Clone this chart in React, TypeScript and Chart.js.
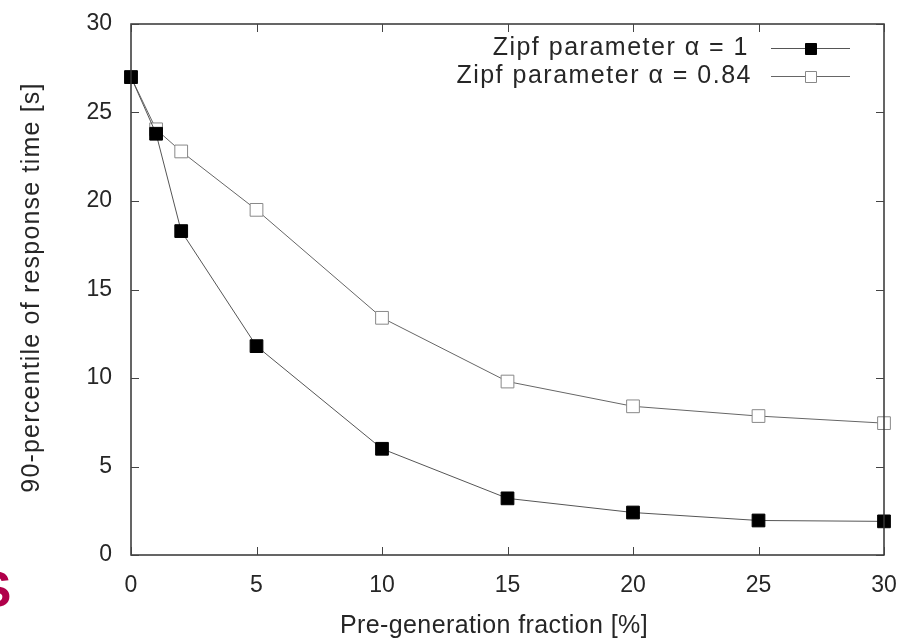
import React, { useEffect, useRef } from "react";
import { Chart, registerables } from "chart.js";

Chart.register(...registerables);

const xValues = [0, 1, 2, 5, 10, 15, 20, 25, 30];
const alphaOne = [27, 23.8, 18.3, 11.8, 6.0, 3.2, 2.4, 1.95, 1.9];
const alphaPoint84 = [27, 24.05, 22.8, 19.5, 13.4, 9.8, 8.4, 7.85, 7.45];
const seriesLabels = ["Zipf parameter \u03b1 = 1", "Zipf parameter \u03b1 = 0.84"];
const xTickValues = [0, 5, 10, 15, 20, 25, 30];
const yTickValues = [0, 5, 10, 15, 20, 25, 30];
const xTitle = "Pre-generation fraction [%]";
const yTitle = "90-percentile of response time [s]";

const FONT = "'Liberation Sans', Arial, Helvetica, sans-serif";
const TEXT = "#262626";

const framePlugin = {
  id: "gnuFrame",
  afterDatasetsDraw(chart: any) {
    const { ctx, chartArea } = chart;
    const { left, right, top, bottom } = chartArea;
    const xs = chart.scales.x;
    const ys = chart.scales.y;
    ctx.save();
    ctx.strokeStyle = "#333";
    ctx.lineWidth = 1.5;
    ctx.strokeRect(left, top, right - left, bottom - top);
    ctx.lineWidth = 1;
    ctx.strokeStyle = "#444";
    const len = 8;
    ctx.beginPath();
    xTickValues.forEach((v) => {
      const px = Math.round(xs.getPixelForValue(v)) + 0.5;
      ctx.moveTo(px, bottom);
      ctx.lineTo(px, bottom - len);
      ctx.moveTo(px, top);
      ctx.lineTo(px, top + len);
    });
    yTickValues.forEach((v) => {
      const py = Math.round(ys.getPixelForValue(v)) + 0.5;
      ctx.moveTo(left, py);
      ctx.lineTo(left + len, py);
      ctx.moveTo(right, py);
      ctx.lineTo(right - len, py);
    });
    ctx.stroke();
    ctx.restore();
  },
  afterDraw(chart: any) {
    const { ctx, chartArea } = chart;
    ctx.save();
    // axis titles
    ctx.fillStyle = TEXT;
    ctx.textAlign = "center";
    ctx.textBaseline = "middle";
    ctx.font = `25px ${FONT}`;
    (ctx as any).letterSpacing = "0.4px";
    ctx.fillText(xTitle, 494, 626);
    ctx.save();
    ctx.translate(32, (chartArea.top + chartArea.bottom) / 2 - 2);
    ctx.rotate(-Math.PI / 2);
    (ctx as any).letterSpacing = "1.2px";
    ctx.fillText(yTitle, 0, 0);
    ctx.restore();

    // legend
    ctx.font = `25px ${FONT}`;
    (ctx as any).letterSpacing = "1.5px";
    ctx.textAlign = "right";
    const textRight = chartArea.right - 133;
    const lineL = chartArea.right - 113;
    const lineR = chartArea.right - 34;
    const mid = (lineL + lineR) / 2;
    chart.data.datasets.forEach((ds: any, i: number) => {
      const y = chartArea.top + 24 + i * 28;
      ctx.fillStyle = TEXT;
      ctx.fillText(ds.label, textRight + (i === 0 ? -2 : 1), y);
      ctx.strokeStyle = ds.borderColor;
      ctx.lineWidth = 1;
      ctx.beginPath();
      ctx.moveTo(lineL, y + 0.5);
      ctx.lineTo(lineR, y + 0.5);
      ctx.stroke();
      const s = 11;
      ctx.fillStyle = ds.pointBackgroundColor;
      ctx.strokeStyle = ds.pointBorderColor;
      ctx.beginPath();
      ctx.rect(Math.round(mid - s / 2) + 0.5, Math.round(y - s / 2) + 0.5, s, s);
      ctx.fill();
      ctx.stroke();
    });
    (ctx as any).letterSpacing = "0px";
    ctx.restore();
  },
};

export default function App() {
  const ref = useRef<HTMLCanvasElement>(null);
  useEffect(() => {
    if (!ref.current) return;
    const chart = new Chart(ref.current, {
      type: "line",
      data: {
        datasets: [
          {
            label: seriesLabels[0],
            data: xValues.map((x, i) => ({ x, y: alphaOne[i] })),
            borderColor: "#555",
            borderWidth: 1,
            pointStyle: "rect",
            pointRadius: 9,
            pointBackgroundColor: "#000",
            pointBorderColor: "#000",
            pointBorderWidth: 1,
            clip: false,
          },
          {
            label: seriesLabels[1],
            data: xValues.map((x, i) => ({ x, y: alphaPoint84[i] })),
            borderColor: "#666",
            borderWidth: 1,
            pointStyle: "rect",
            pointRadius: 9,
            pointBackgroundColor: "#fff",
            pointBorderColor: "#888",
            pointBorderWidth: 1,
            clip: false,
          },
        ],
      },
      options: {
        animation: false,
        responsive: false,
        layout: { padding: { left: 0, right: 22, top: 24, bottom: 0 } },
        plugins: { legend: { display: false }, tooltip: { enabled: false } },
        scales: {
          x: {
            type: "linear",
            min: 0,
            max: 30,
            afterFit: (s: any) => {
              s.height = 84;
              s.paddingLeft = 0;
              s.paddingRight = 0;
            },
            afterBuildTicks: (s: any) => {
              s.ticks = xTickValues.map((v) => ({ value: v }));
            },
            grid: { display: false, drawTicks: false },
            border: { display: false },
            ticks: {
              font: { family: FONT, size: 23 },
              color: TEXT,
              padding: 17,
              maxRotation: 0,
            },
            title: { display: false },
          },
          y: {
            type: "linear",
            min: 0,
            max: 30,
            afterFit: (s: any) => {
              s.width = 131;
              s.paddingTop = 0;
              s.paddingBottom = 0;
            },
            afterBuildTicks: (s: any) => {
              s.ticks = yTickValues.map((v) => ({ value: v }));
            },
            grid: { display: false, drawTicks: false },
            border: { display: false },
            ticks: {
              font: { family: FONT, size: 23 },
              color: TEXT,
              padding: 19,
            },
            title: { display: false },
          },
        },
      },
      plugins: [framePlugin],
    });
    return () => chart.destroy();
  }, []);

  return (
    <div
      style={{
        position: "fixed",
        left: 0,
        top: 0,
        width: 906,
        height: 639,
        overflow: "hidden",
        background: "#fff",
      }}
    >
      <canvas ref={ref} width={906} height={639} style={{ display: "block" }} />
      <span
        style={{
          position: "absolute",
          left: -22,
          top: 565,
          fontFamily: FONT,
          fontWeight: "bold",
          fontSize: 50,
          color: "#b0004a",
          lineHeight: 1,
        }}
      >
        S
      </span>
    </div>
  );
}
